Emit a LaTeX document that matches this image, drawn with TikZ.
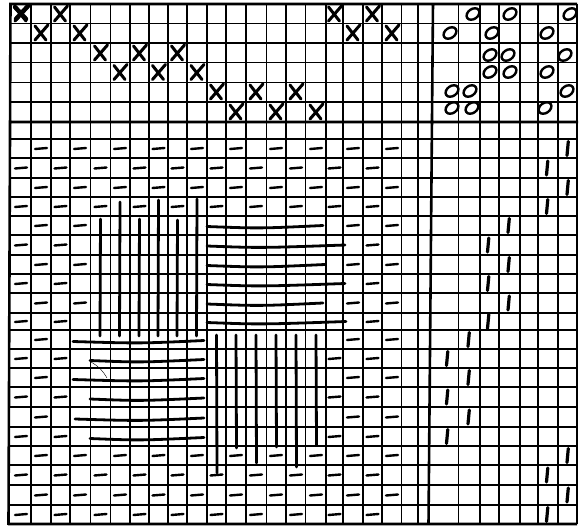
\documentclass[tikz,border=0pt]{standalone}
\usetikzlibrary{calc}
% cell centres (pt = px)
\newcommand{\setcells}[2]{%
  \foreach \v [count=\i from 0] in {#2} {\expandafter\xdef\csname #1\i\endcsname{\v}}}
\setcells{wx}{21,41,60.5,80,100.5,120,139.5,158.5,177.5,197,216.5,236,256,276,296,316,334.5,353,372.5,392}
\setcells{tx}{447,468.5,488,508.5,529,547,567.5}
\setcells{sy}{14,33,53,72.5,92,112}
\setcells{py}{148.5,168,187.5,206.5,225.5,245,264.5,283.5,303,321.5,339.5,358.5,377.5,397,417,436.5,455.5,475,495,514.5}

\begin{document}
\begin{tikzpicture}[x=1pt,y=-1pt,
  gridline/.style={line width=1.1pt},
  heavyline/.style={line width=2.6pt},
  pick/.style={line width=2.4pt,line cap=round},
  float/.style={line width=2.8pt,line cap=round},
  cross/.style={line width=3pt,line cap=round},
  tiemark/.style={line width=2.4pt},
  treadle/.style={line width=3.2pt,line cap=round}]
  \useasboundingbox (0,0) rectangle (579,527);

  % grid
  \foreach \gx in {31,51,70,90.5,110.5,130,149,168,187,207,226,246,266.5,286,305.5,326,343,363,382,401.5,418,458.5,480,499,520,538,558,577}
    \draw[gridline] (\gx,4) -- (\gx,524);
  \foreach \gy in {23.5,43,62.5,82.5,102,139,158,178,197,216,235,255,274,293,313,330,349,368,387,407,427,446,465,485,505}
    \draw[gridline] (9,\gy) -- (577,\gy);
  \draw[heavyline] (10.5,3) -- (8.5,525) (9,4) -- (577,4) (9,122) -- (578,122)
    (433,3) -- (428.5,525) (8,524) -- (577,524);

  % threading
  \foreach \c/\r in {0/0,1/1,2/0,3/1,4/2,5/3,6/2,7/3,8/2,9/3,10/4,11/5,12/4,13/5,14/4,15/5,16/0,17/1,18/0,19/1} {
    \edef\mx{\csname wx\c\endcsname}
    \edef\my{\csname sy\r\endcsname}
    \draw[cross] (\mx-6,\my-7) -- (\mx+5,\my+7) (\mx+7,\my-8) -- (\mx-6,\my+7);
  }
  \draw[cross,line width=4.5pt] (15,7) -- (26,19) (28,6) -- (16,19);

  % tie-up
  \foreach \ox/\oy in {473/14,510/14,570/14,450/33,492/33,547/33,490/55,508/55,565/55,490/72,510/72,547/72,452/91,470/91,567/91,452/108,472/108,545/108}
    \draw[tiemark] (\ox,\oy) ellipse [x radius=7, y radius=5, rotate=35];

  % treadling
  \foreach \r/\c in {0/6,1/5,2/6,3/5,4/3,5/2,6/3,7/2,8/3,9/2,10/1,11/0,12/1,13/0,14/1,15/0,16/6,17/5,18/6,19/5} {
    \edef\mx{\csname tx\c\endcsname}
    \edef\my{\csname py\r\endcsname}
    \draw[treadle] (\mx+0.8,\my-7) -- (\mx-0.5,\my+7);
  }

  % drawdown: plain weave ground
  \foreach \r in {0,...,19} {
    \foreach \c in {0,...,19} {
      \pgfmathtruncatemacro\inblock{(\r>3)*(\r<16)*(\c>3)*(\c<16)}
      \pgfmathtruncatemacro\ext{(\c==16)*(\r>4)*(\r<10)+(\c==3)*(\r>9)*(\r<15)}
      \pgfmathtruncatemacro\show{mod(\c+\r,2)*(1-\inblock)*(1-\ext)}
      \ifnum\show=1
        \edef\mx{\csname wx\c\endcsname}
        \edef\my{\csname py\r\endcsname}
        \draw[pick] (\mx-6,\my+0.5) -- (\mx+6,\my-0.5);
      \fi
    }
  }

  % warp floats, upper left
  \foreach \c/\ya in {4/219,5/202,6/219,7/200,8/220,9/199} {
    \edef\mx{\csname wx\c\endcsname}
    \draw[float] (\mx,\ya) -- (\mx-0.5,336);
  }
  % weft floats, upper right
  \foreach \r/\xb in {4/323,5/345,6/325,7/345,8/323,9/346} {
    \edef\my{\csname py\r\endcsname}
    \draw[float] (207,\my+1) .. controls (260,\my+3) .. (\xb,\my);
  }
  % weft floats, lower left
  \foreach \r/\xa in {10/73,11/90,12/73,13/90,14/75,15/90} {
    \edef\my{\csname py\r\endcsname}
    \draw[float] (\xa,\my+2) .. controls (140,\my+4) .. (204,\my+1);
  }
  % warp floats, lower right
  \foreach \c/\yb in {10/473,11/448,12/463,13/447,14/467,15/445} {
    \edef\mx{\csname wx\c\endcsname}
    \draw[float] (\mx,335) -- (\mx+0.5,\yb);
  }

  % stray pen mark
  \draw[line width=0.4pt] (91,362) to[bend left=15] (107,378);
\end{tikzpicture}
\end{document}
